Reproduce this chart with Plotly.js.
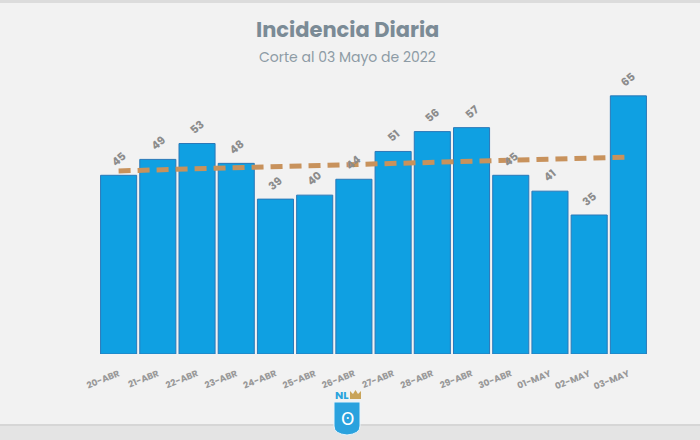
<!DOCTYPE html>
<html>
<head>
<meta charset="utf-8">
<script src="https://cdn.plot.ly/plotly-3.0.1.min.js"></script>
<style>
html,body{margin:0;padding:0;background:#f2f2f2;}
#chart{width:700px;height:440px;}
</style>
</head>
<body>
<div id="chart"></div>
<script>
const categories = ["20-ABR","21-ABR","22-ABR","23-ABR","24-ABR","25-ABR","26-ABR","27-ABR","28-ABR","29-ABR","30-ABR","01-MAY","02-MAY","03-MAY"];
const cases = [45,49,53,48,39,40,44,51,56,57,45,41,35,65];
const trendCategories = ["20-ABR","03-MAY"];
const trendValues = [46.1,49.6];

const bars = {
  type:'bar', x:categories, y:cases,
  marker:{color:'#0fa0e2', line:{color:'#2a78b8', width:1}},
  hoverinfo:'none'
};
const trend = {
  type:'scatter', mode:'lines', x:trendCategories, y:trendValues,
  line:{color:'#c8925c', width:5, dash:'12px,7px'}, hoverinfo:'none'
};

const P = (px)=> (px-99)/549;
const Q = (py)=> (354-py)/278;

const valueLabels = categories.map((c,i)=>({
  xref:'x', yref:'y', x:c, y:cases[i], xanchor:'center', yanchor:'bottom',
  yshift:3, text:String(cases[i]), showarrow:false, textangle:-40,
  font:{family:'Poppins, Open Sans, sans-serif', size:11, color:'#8c8c8c', weight:700}
}));

const layout = {
  width:700, height:440,
  paper_bgcolor:'#f2f2f2', plot_bgcolor:'#f2f2f2',
  margin:{l:99, r:52, t:76, b:86},
  showlegend:false, bargap:0.08,
  xaxis:{type:'category', range:[-0.5,13.5], showgrid:false, zeroline:false, showline:false,
    ticks:'', tickangle:-22, ticklabelstandoff:12,
    tickfont:{family:'Poppins, Open Sans, sans-serif', size:9, color:'#999999', weight:700}},
  yaxis:{range:[0,70], visible:false, showgrid:false, zeroline:false},
  annotations:valueLabels.concat([
    {xref:'paper', yref:'paper', x:P(347), y:Q(30), xanchor:'center', yanchor:'middle',
     text:'Incidencia Diaria', showarrow:false,
     font:{family:'Poppins, Open Sans, sans-serif', size:21, color:'#7b8b96', weight:700}},
    {xref:'paper', yref:'paper', x:P(347), y:Q(57), xanchor:'center', yanchor:'middle',
     text:'Corte al 03 Mayo de 2022', showarrow:false,
     font:{family:'Poppins, Open Sans, sans-serif', size:14, color:'#8d9ba5'}},
    {xref:'paper', yref:'paper', x:P(342), y:Q(395), xanchor:'center', yanchor:'middle',
     text:'NL', showarrow:false,
     font:{family:'Poppins, Open Sans, sans-serif', size:11, color:'#2ba3dd', weight:700}},
    {xref:'paper', yref:'paper', x:P(347), y:Q(419), xanchor:'center', yanchor:'middle',
     text:'ʘ', showarrow:false,
     font:{family:'DejaVu Sans, sans-serif', size:17, color:'#ffffff'}}
  ]),
  shapes:[
    {type:'rect', layer:'below', xref:'paper', yref:'paper', x0:P(0), x1:P(700), y0:Q(0), y1:Q(3), line:{width:0}, fillcolor:'#dcdcdc'},
    {type:'rect', layer:'below', xref:'paper', yref:'paper', x0:P(0), x1:P(700), y0:Q(425), y1:Q(440), line:{width:0}, fillcolor:'#e4e4e4'},
    {type:'rect', layer:'below', xref:'paper', yref:'paper', x0:P(0), x1:P(700), y0:Q(424), y1:Q(426), line:{width:0}, fillcolor:'#d6d6d6'},
    {type:'path', xref:'paper', yref:'paper',
     path:'M '+P(334)+' '+Q(402)+' L '+P(360)+' '+Q(402)+' L '+P(360)+' '+Q(426)+' Q '+P(360)+' '+Q(434)+' '+P(347)+' '+Q(435)+' Q '+P(334)+' '+Q(434)+' '+P(334)+' '+Q(426)+' Z',
     line:{color:'#e8f4fb', width:1}, fillcolor:'#2aa2de'},
    {type:'path', xref:'paper', yref:'paper',
     path:'M '+P(350)+' '+Q(391)+' L '+P(353)+' '+Q(394)+' L '+P(355.5)+' '+Q(390)+' L '+P(358)+' '+Q(394)+' L '+P(361)+' '+Q(391)+' L '+P(361)+' '+Q(399)+' L '+P(350)+' '+Q(399)+' Z',
     line:{width:0}, fillcolor:'#c9a45a'}
  ]
};

Plotly.newPlot('chart',[bars,trend],layout,{staticPlot:true, displayModeBar:false});
</script>
</body>
</html>
